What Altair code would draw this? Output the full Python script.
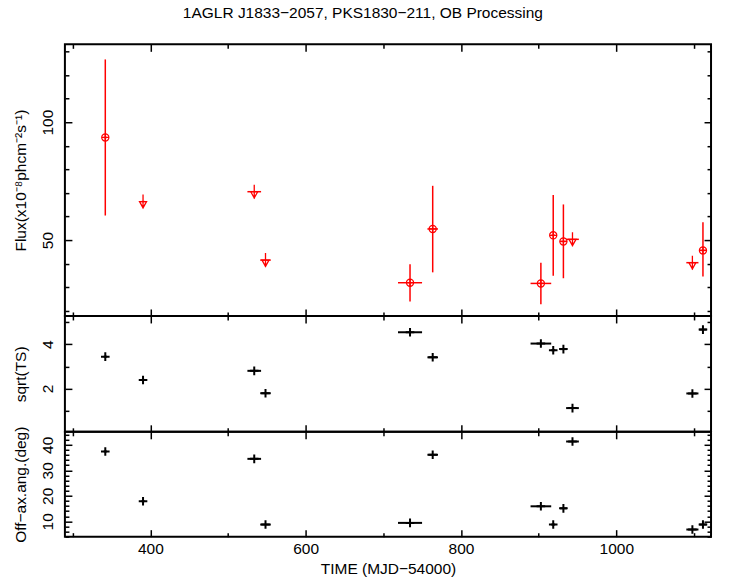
import altair as alt
import pandas as pd

# ---- values (time in MJD-54000) ----
time      = [342.0, 390.6, 533.8, 548.3, 734.4, 763.6, 902.9, 918.8, 931.9, 943.6, 1098.0, 1111.6]
half_bin  = [2.0, 2.0, 8.8, 6.8, 15.5, 6.8, 13.3, 2.5, 4.5, 8.2, 7.8, 4.8]
upper_lim = [False, True, True, True, False, False, False, False, False, True, True, False]
flux      = [93.5, 66.3, 70.5, 41.5, 31.9, 54.7, 31.6, 52.0, 49.4, 50.3, 40.4, 45.6]
flux_lo   = [60.4, None, None, None, 23.9, 36.3, 22.8, 34.9, 33.8, None, None, 34.5]
flux_hi   = [126.6, None, None, None, 39.7, 73.0, 40.4, 69.1, 65.1, None, None, 57.5]
sqrt_ts   = [3.44, 2.39, 2.80, 1.79, 4.54, 3.41, 4.03, 3.73, 3.78, 1.12, 1.78, 4.66]
off_axis  = [37.4, 17.9, 34.5, 8.75, 9.4, 36.1, 15.9, 8.75, 15.1, 41.3, 6.8, 8.75]

# ---- axis ranges and tick values ----
x_domain = [290, 1122]
x_major = [400, 600, 800, 1000]
x_minor = [300, 500, 700, 900, 1100]
flux_domain = [17.8, 133.0]
flux_major = [50, 100]
flux_minor = [20, 30, 40, 60, 70, 80, 90, 110, 120, 130]
ts_domain = [0.05, 5.275]
ts_major = [2, 4]
ts_minor = [1, 3, 5]
ang_domain = [4.0, 45.1]
ang_major = [10, 20, 30, 40]
ang_minor = [4, 6, 8, 12, 14, 16, 18, 22, 24, 26, 28, 32, 34, 36, 38, 42, 44]

TITLE = "1AGLR J1833\u22122057, PKS1830\u2212211, OB Processing"
XTITLE = "TIME (MJD\u221254000)"
FONT = "Liberation Sans"
FS = 15.5
MAJ, MIN = 7, 4

obs = pd.DataFrame({
    "time": time, "hw": half_bin, "ul": upper_lim, "flux": flux,
    "lo": flux_lo, "hi": flux_hi, "ts": sqrt_ts, "ang": off_axis,
})
obs["t0"] = obs["time"] - obs["hw"]
obs["t1"] = obs["time"] + obs["hw"]
det = obs[~obs["ul"]]
ul = obs[obs["ul"]]

OPLUS = "M-1,0A1,1,0,1,1,1,0A1,1,0,1,1,-1,0ZM-1,0L1,0M0,-1L0,1"
PLUS = "M-1,0L1,0M0,-1L0,1"
ULSYM = "M0,-1L0,1M-0.5,0L0.5,0L0,0.9Z"

xs = alt.Scale(domain=x_domain, nice=False, zero=False)


def make_axes(slot, y_major, y_minor, y_title, bottom):
    if slot > 3:
        return None, None
    major = slot in (0, 1)
    size = MAJ if major else MIN
    first = slot in (0, 2)
    common = dict(tickSize=size, offset=-size, domain=False, grid=False,
                  tickColor="black", tickWidth=1.5)
    xa = dict(orient="bottom" if first else "top",
              values=x_major if major else x_minor, **common)
    ya = dict(orient="left" if first else "right",
              values=y_major if major else y_minor, **common)
    if slot == 0 and bottom:
        xa.update(labels=True, title=XTITLE, format="d", labelFont=FONT, labelFontSize=FS,
                  labelColor="black", labelPadding=5, labelFlush=False,
                  titleFont=FONT, titleFontSize=FS, titleFontWeight="normal",
                  titleColor="black", titlePadding=4)
    else:
        xa.update(labels=False, title=None, maxExtent=0)
    if slot == 0:
        ya.update(labels=True, title=y_title, labelFont=FONT, labelFontSize=FS,
                  labelColor="black", labelAngle=270, labelAlign="center",
                  labelBaseline="bottom", labelPadding=9,
                  titleFont=FONT, titleFontSize=FS, titleFontWeight="normal",
                  titleColor="black", titlePadding=12)
    else:
        ya.update(labels=False, title=None, maxExtent=0)
    return alt.Axis(**xa), alt.Axis(**ya)


def panel(builders, ydomain, y_major, y_minor, y_title, height, bottom=False):
    ys = alt.Scale(domain=ydomain, nice=False, zero=False)
    layers = []
    for i, b in enumerate(builders):
        xa, ya = make_axes(i, y_major, y_minor, y_title, bottom)
        layers.append(b(xa, ya, ys))
    return alt.layer(*layers).resolve_axis(x="independent", y="independent").properties(
        width=647, height=height)


def ax_x(field, xa):
    return alt.X(field, type="quantitative", scale=xs, axis=xa)


# ---------- flux panel ----------
def f_vbar(xa, ya, ys):
    return alt.Chart(det).mark_rule(color="red", strokeWidth=1.5).encode(
        x=ax_x("time", xa), y=alt.Y("lo:Q", scale=ys, axis=ya), y2="hi:Q")


def f_hbar(xa, ya, ys):
    return alt.Chart(obs).mark_rule(color="red", strokeWidth=1.5).encode(
        x=ax_x("t0", xa), x2="t1:Q", y=alt.Y("flux:Q", scale=ys, axis=ya))


def f_oplus(xa, ya, ys):
    return alt.Chart(det).mark_point(shape=OPLUS, filled=False, color="red",
                                     size=52, strokeWidth=1.2, opacity=1).encode(
        x=ax_x("time", xa), y=alt.Y("flux:Q", scale=ys, axis=ya))


def f_ul(xa, ya, ys):
    return alt.Chart(ul).mark_point(shape=ULSYM, filled=False, color="red",
                                    size=196, strokeWidth=1.3, opacity=1).encode(
        x=ax_x("time", xa), y=alt.Y("flux:Q", scale=ys, axis=ya))


top = panel([f_vbar, f_hbar, f_oplus, f_ul], flux_domain, flux_major, flux_minor,
            "Flux(x10\u207b\u2078phcm\u207b\u00b2s\u207b\u00b9)", 272)


# ---------- black panels ----------
def black_builders(field):
    def hbar(xa, ya, ys):
        return alt.Chart(obs).mark_rule(color="black", strokeWidth=2).encode(
            x=ax_x("t0", xa), x2="t1:Q", y=alt.Y(field, type="quantitative", scale=ys, axis=ya))

    def plus(xa, ya, ys):
        return alt.Chart(obs).mark_point(shape=PLUS, filled=False, color="black",
                                         size=74, strokeWidth=2, opacity=1).encode(
            x=ax_x("time", xa), y=alt.Y(field, type="quantitative", scale=ys, axis=ya))

    def ghost(xa, ya, ys):
        return alt.Chart(obs).mark_point(opacity=0).encode(
            x=ax_x("time", xa), y=alt.Y(field, type="quantitative", scale=ys, axis=ya))

    return [hbar, plus, ghost, ghost]


mid = panel(black_builders("ts"), ts_domain, ts_major, ts_minor, "sqrt(TS)", 116)
bot = panel(black_builders("ang"), ang_domain, ang_major, ang_minor,
            "Off\u2212ax.ang.(deg)", 105, bottom=True)

chart = alt.vconcat(top, mid, bot, spacing=0, bounds="flush").properties(
    title=alt.Title(TITLE, font=FONT, fontSize=FS, fontWeight="normal", color="black",
                    anchor="middle", offset=21),
    padding={"left": 12, "top": 5, "right": 20, "bottom": 2},
).configure_view(stroke="black", strokeWidth=2)

chart.save("out.html", embed_options={"renderer": "svg", "actions": False})
